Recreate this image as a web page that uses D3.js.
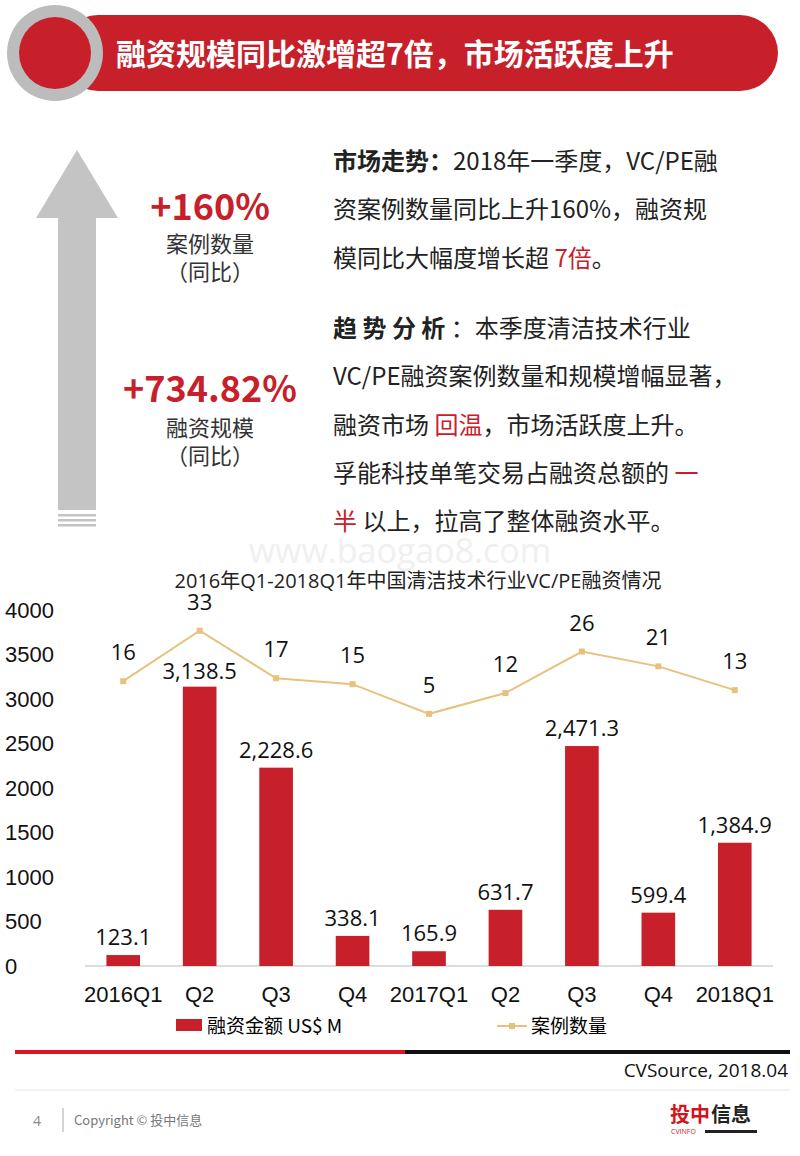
<!DOCTYPE html>
<html><head><meta charset="utf-8">
<script src="https://cdn.jsdelivr.net/npm/d3@7"></script>
<style>body{margin:0;background:#fff}svg{display:block;font-family:"Open Sans","Noto Sans CJK SC",sans-serif}</style>
</head><body><svg id="c" width="800" height="1156"></svg>
<script>
const categories = ["2016Q1","Q2","Q3","Q4","2017Q1","Q2 ","Q3 ","Q4 ","2018Q1"];
const amounts = [123.1, 3138.5, 2228.6, 338.1, 165.9, 631.7, 2471.3, 599.4, 1384.9];
const deals = [16, 33, 17, 15, 5, 12, 26, 21, 13];
const yTicks = [0, 500, 1000, 1500, 2000, 2500, 3000, 3500, 4000];

const svg = d3.select("#c");
const red = "#c8202a", cjk = "'Noto Sans CJK SC',sans-serif";

// 标题栏
svg.append("rect").attr("x", 60).attr("y", 15).attr("width", 718).attr("height", 76).attr("rx", 38).attr("fill", red);
svg.append("circle").attr("cx", 55).attr("cy", 53).attr("r", 48).attr("fill", "#bcbcbc");
svg.append("circle").attr("cx", 55).attr("cy", 53).attr("r", 36).attr("fill", red);
svg.append("text").attr("x", 116).attr("y", 65).attr("fill", "#fff").style("font-family", cjk)
  .attr("font-size", 30).attr("font-weight", "bold").text("融资规模同比激增超7倍，市场活跃度上升");

// 左侧箭头
svg.append("path").attr("d", "M77,150 L118,218 L96,218 L96,510 L58,510 L58,218 L36,218 Z").attr("fill", "#c4c4c4");
[514, 519, 524].forEach(y => svg.append("rect").attr("x", 58).attr("y", y).attr("width", 38).attr("height", 2.5).attr("fill", "#c4c4c4"));

const lt = svg.append("g").attr("text-anchor", "middle").style("font-family", cjk);
lt.append("text").attr("x", 210).attr("y", 220).attr("fill", red).attr("font-size", 36).attr("font-weight", "bold").text("+160%");
lt.append("text").attr("x", 210).attr("y", 252).attr("font-size", 22).attr("fill", "#333").text("案例数量");
lt.append("text").attr("x", 210).attr("y", 280).attr("font-size", 22).attr("fill", "#333").text("（同比）");
lt.append("text").attr("x", 210).attr("y", 402).attr("fill", red).attr("font-size", 36).attr("font-weight", "bold").text("+734.82%");
lt.append("text").attr("x", 210).attr("y", 436).attr("font-size", 22).attr("fill", "#333").text("融资规模");
lt.append("text").attr("x", 210).attr("y", 464).attr("font-size", 22).attr("fill", "#333").text("（同比）");

// 右侧文字
const para = [
  [170, [["市场走势：", "b"], ["2018年一季度，VC/PE融", ""]]],
  [218, [["资案例数量同比上升160%，融资规", ""]]],
  [267, [["模同比大幅度增长超 ", ""], ["7倍", "r"], ["。", ""]]],
  [337, [["趋 势 分 析 ", "b"], ["：本季度清洁技术行业", ""]]],
  [385, [["VC/PE融资案例数量和规模增幅显著，", ""]]],
  [434, [["融资市场  ", ""], ["回温", "r"], ["，市场活跃度上升。", ""]]],
  [482, [["孚能科技单笔交易占融资总额的 ", ""], ["一", "r"]]],
  [530, [["半", "r"], [" 以上，拉高了整体融资水平。", ""]]]
];
para.forEach(([y, parts]) => {
  const t = svg.append("text").attr("x", 333).attr("y", y).attr("font-size", 24).style("font-family", cjk).attr("fill", "#222");
  parts.forEach(([s, k]) => t.append("tspan").text(s)
    .attr("font-weight", k === "b" ? "bold" : null).attr("fill", k === "r" ? red : null));
});

svg.append("text").attr("x", 400).attr("y", 563).attr("text-anchor", "middle").attr("font-size", 34)
  .attr("fill", "#f0f0f0").text("www.baogao8.com");

// 图表
svg.append("text").attr("x", 418).attr("y", 588).attr("text-anchor", "middle").attr("font-size", 20).attr("fill", "#222")
  .style("font-family", "'Open Sans','Noto Sans CJK SC'").text("2016年Q1-2018Q1年中国清洁技术行业VC/PE融资情况");

const x = d3.scaleBand().domain(categories).range([85, 773]).paddingInner(0.56).paddingOuter(0.28);
const y = d3.scaleLinear().domain([0, 4000]).range([966, 610]);
const y2 = d3.scaleLinear().domain([-80, 40]).range([966, 610]);

const ya = svg.append("g").attr("transform", "translate(85,0)")
  .call(d3.axisLeft(y).tickValues(yTicks).tickFormat(d3.format("d")).tickSize(0));
ya.select(".domain").remove();
ya.selectAll("text").attr("font-size", 22).attr("fill", "#111").attr("text-anchor", "start").attr("x", -80);

svg.append("line").attr("x1", 85).attr("x2", 773).attr("y1", 966).attr("y2", 966).attr("stroke", "#bbb");
const xa = svg.append("g").attr("transform", "translate(0,966)").call(d3.axisBottom(x).tickSize(0).tickPadding(20));
xa.select(".domain").remove();
xa.selectAll("text").attr("font-size", 22).attr("fill", "#111");

svg.selectAll(".bar").data(amounts).join("rect").attr("class", "bar")
  .attr("x", (d, i) => x(categories[i])).attr("width", x.bandwidth())
  .attr("y", d => y(d)).attr("height", d => 966 - y(d)).attr("fill", red);

const fmt = d3.format(",.1f");
svg.selectAll(".bl").data(amounts).join("text").attr("class", "bl")
  .attr("x", (d, i) => x(categories[i]) + x.bandwidth() / 2)
  .attr("y", (d, i) => i === 1 ? y(d) - 8 : y(d) - 10).attr("text-anchor", "middle")
  .attr("font-size", 22).attr("fill", "#111").text(d => fmt(d));

const cx = (d, i) => x(categories[i]) + x.bandwidth() / 2;
svg.append("path").datum(deals).attr("fill", "none").attr("stroke", "#e7c27f").attr("stroke-width", 2)
  .attr("d", d3.line().x(cx).y(d => y2(d)));
svg.selectAll(".pt").data(deals).join("rect").attr("class", "pt")
  .attr("x", (d, i) => cx(d, i) - 3).attr("y", d => y2(d) - 3).attr("width", 6).attr("height", 6).attr("fill", "#e7c27f");
svg.selectAll(".pl").data(deals).join("text").attr("class", "pl")
  .attr("x", cx).attr("y", d => y2(d) - 21).attr("text-anchor", "middle")
  .attr("font-size", 22).attr("fill", "#111").text(d => d);

// 图例
svg.append("rect").attr("x", 176).attr("y", 1019).attr("width", 26).attr("height", 12).attr("fill", red);
svg.append("text").attr("x", 207).attr("y", 1033).attr("font-size", 19).style("font-family", cjk).text("融资金额 US$ M");
svg.append("line").attr("x1", 497).attr("x2", 527).attr("y1", 1026).attr("y2", 1026).attr("stroke", "#e7c27f").attr("stroke-width", 2);
svg.append("rect").attr("x", 509).attr("y", 1023).attr("width", 6).attr("height", 6).attr("fill", "#e7c27f");
svg.append("text").attr("x", 531).attr("y", 1033).attr("font-size", 19).style("font-family", cjk).text("案例数量");

// 页脚
svg.append("rect").attr("x", 15).attr("y", 1050).attr("width", 390).attr("height", 4).attr("fill", "#e0141e");
svg.append("rect").attr("x", 405).attr("y", 1050).attr("width", 385).attr("height", 4).attr("fill", "#111");
svg.append("text").attr("x", 788).attr("y", 1077).attr("text-anchor", "end").attr("font-size", 19).attr("fill", "#111").text("CVSource, 2018.04");
svg.append("line").attr("x1", 15).attr("x2", 790).attr("y1", 1090).attr("y2", 1090).attr("stroke", "#e6e6e6");
svg.append("text").attr("x", 33).attr("y", 1126).attr("font-size", 14).attr("fill", "#888").text("4");
svg.append("line").attr("x1", 63).attr("x2", 63).attr("y1", 1108).attr("y2", 1132).attr("stroke", "#aaa");
svg.append("text").attr("x", 74).attr("y", 1125).attr("font-size", 13).attr("fill", "#777").style("font-family", cjk).text("Copyright © 投中信息");
svg.append("text").attr("x", 670).attr("y", 1122).attr("font-size", 20).attr("font-weight", "bold").attr("fill", "#d2141c").style("font-family", cjk).text("投中");
svg.append("text").attr("x", 711).attr("y", 1122).attr("font-size", 20).attr("font-weight", "bold").attr("fill", "#222").style("font-family", cjk).text("信息");
svg.append("text").attr("x", 671).attr("y", 1134).attr("font-size", 7).attr("fill", "#d2141c").text("CVINFO");
svg.append("rect").attr("x", 705).attr("y", 1130).attr("width", 52).attr("height", 3).attr("fill", "#222");
</script></body></html>
